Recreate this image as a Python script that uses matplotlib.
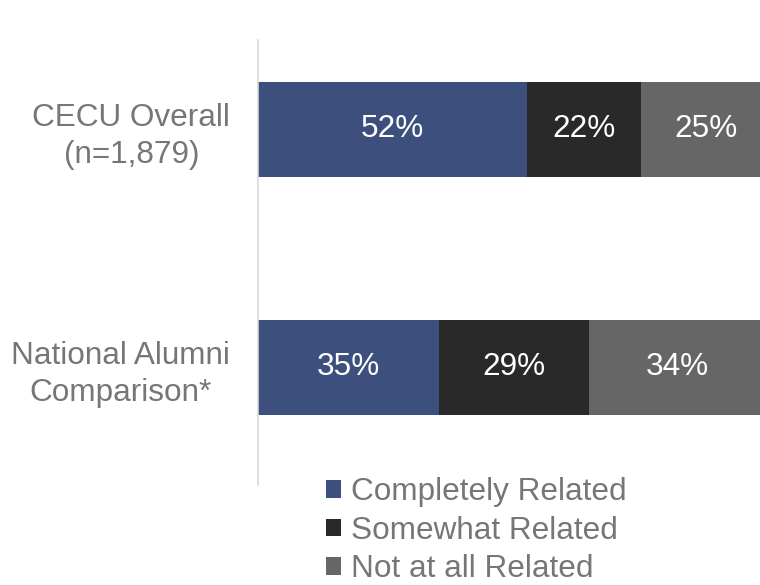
import numpy as np
import matplotlib
matplotlib.use("Agg")
import matplotlib.pyplot as plt

plt.rcParams['font.family'] = ['Liberation Sans', 'DejaVu Sans']

groups = ["CECU Overall\n(n=1,879)", "National Alumni\nComparison*"]
series = ["Completely Related", "Somewhat Related", "Not at all Related"]
values = {
    "Completely Related": [52, 35],
    "Somewhat Related": [22, 29],
    "Not at all Related": [25, 34],
}
colors = ["#3D4F7C", "#292929", "#666666"]
TXT = "#767676"
FS = 22.7

fig = plt.figure(figsize=(7.6, 5.85), dpi=100)
ax = fig.add_axes([258/760, 1-485/585, 1-258/760, 445/585])

ypos = np.array([1.0, 0.0])
left = np.zeros(len(groups))
for s, c in zip(series, colors):
    v = np.array(values[s], dtype=float)
    bars = ax.barh(ypos, v, left=left, height=0.4, color=c, label=s)
    for b, val in zip(bars, v):
        ax.text(b.get_x() + b.get_width()/2, b.get_y() + b.get_height()/2, f"{int(val)}%",
                ha="center", va="center", color="white", fontsize=FS)
    left += v

ax.set_xlim(0, 97)
ax.set_ylim(-0.494, 1.376)
ax.set_xticks([])
ax.set_yticks(ypos)
ax.set_yticklabels(groups, fontsize=FS, color=TXT, multialignment="center", linespacing=1.3)
ax.tick_params(axis="y", length=0, pad=20)
for sp in ["top", "right", "bottom"]:
    ax.spines[sp].set_visible(False)
ax.spines["left"].set_color("#D9D9D9")
ax.spines["left"].set_linewidth(1.2)

leg = fig.legend(loc="upper left", bbox_to_anchor=(326/760, 1-477/585), frameon=False,
                 fontsize=FS, handlelength=0.48, handleheight=0.48, handletextpad=0.3,
                 labelspacing=0.27, borderpad=0, borderaxespad=0)
for t in leg.get_texts():
    t.set_color(TXT)

fig.savefig("out.png", dpi=100)
